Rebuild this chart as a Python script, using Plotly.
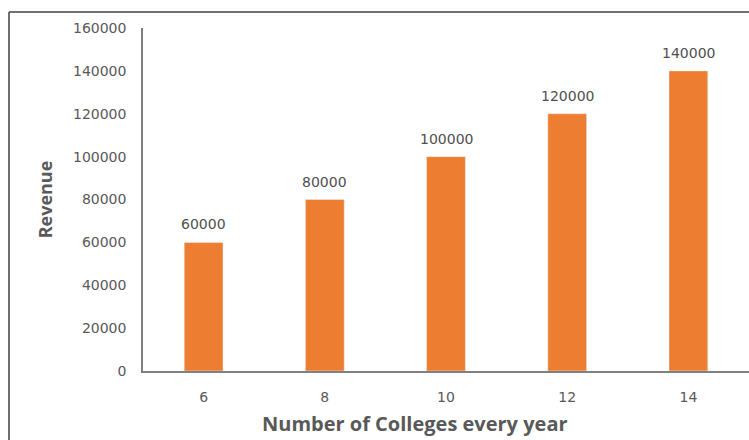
import plotly.graph_objects as go

categories = ["6", "8", "10", "12", "14"]
revenue = [60000, 80000, 100000, 120000, 140000]
y_ticks = [0, 20000, 40000, 60000, 80000, 100000, 120000, 140000, 160000]

BAR = "#ED7D31"
GREY = "#595959"
NUMFONT = "DejaVu Sans"

fig = go.Figure()
fig.add_trace(go.Bar(x=categories, y=revenue, marker_color=BAR, width=0.32,
                     hoverinfo="x+y"))

for i, v in enumerate(revenue):
    fig.add_annotation(x=i, y=v, text=str(v), showarrow=False, yanchor="bottom",
                       yshift=8, font=dict(family=NUMFONT, size=14, color="#505050"))

L, R, T, B = 143, 0, 28, 69
W, H = 749, 440
pw, ph = W - L - R, H - T - B
def px(x):
    return (x - L) / pw
def py(y):
    return (H - B - y) / ph

fig.add_shape(type="line", xref="paper", yref="paper", x0=px(9), x1=px(749), y0=py(12), y1=py(12),
              line=dict(color="#404040", width=1.5))
fig.add_shape(type="line", xref="paper", yref="paper", x0=px(9), x1=px(9), y0=py(12), y1=py(440),
              line=dict(color="#404040", width=1.5))

# x-axis title placed as annotation (centered on the whole chart like the reference)
fig.add_annotation(xref="paper", yref="paper", x=px(415), y=py(423), text="<b>Number of Colleges every year</b>",
                   showarrow=False, xanchor="center", yanchor="middle",
                   font=dict(family="Open Sans", size=20, color=GREY))

fig.update_layout(
    width=W, height=H,
    margin=dict(l=L, r=R, t=T, b=B),
    paper_bgcolor="white", plot_bgcolor="white",
    showlegend=False,
    font=dict(family="Open Sans", color=GREY),
    xaxis=dict(type="category", range=[-0.5, 4.5], showline=True, linecolor="#808080", linewidth=1.5,
               showgrid=False, ticks="", ticklabelstandoff=12,
               tickfont=dict(family=NUMFONT, size=14, color=GREY)),
    yaxis=dict(range=[0, 160000], tickvals=y_ticks, ticktext=[str(t) for t in y_ticks],
               showline=True, linecolor="#808080", linewidth=1.5, showgrid=False, zeroline=False,
               ticks="", ticklabelstandoff=12, tickfont=dict(family=NUMFONT, size=14, color=GREY),
               title=dict(text="<b>Revenue</b>", standoff=16, font=dict(size=18, color=GREY))),
)

fig.write_html("out.html")
